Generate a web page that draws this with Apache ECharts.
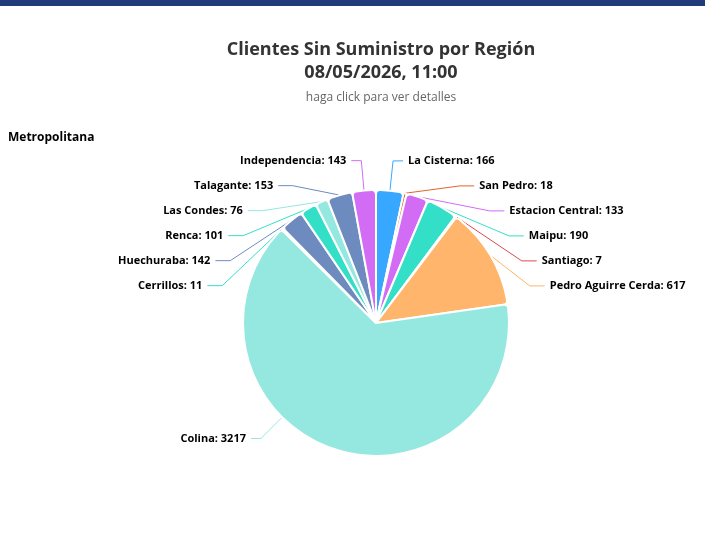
<!DOCTYPE html>
<html><head><meta charset="utf-8">
<script src="https://cdn.jsdelivr.net/npm/echarts@6/dist/echarts.min.js"></script>
<style>html,body{margin:0;padding:0;background:#fff}#c{width:705px;height:536px}</style>
</head><body><div id="c"></div>
<script>
const comunas = ['La Cisterna','San Pedro','Estacion Central','Maipu','Santiago','Pedro Aguirre Cerda','Colina','Cerrillos','Huechuraba','Renca','Las Condes','Talagante','Independencia'];
const clientes = [166,18,133,190,7,617,3217,11,142,101,76,153,143];
const colores = ['#38a7ff','#e0652a','#d36cf5','#34dfc8','#d94a4a','#ffb56b','#94e8e0','#34dfc8','#6e8bc0','#34dfc8','#94e8e0','#6e8bc0','#d36cf5'];
const titulo = 'Clientes Sin Suministro por Región\n08/05/2026, 11:00';
const subtitulo = 'haga click para ver detalles';
const region = 'Metropolitana';

const CX = 376, CY = 323, R = 133, LEN = 30, LEN2 = 10, GAP = 5;

// place outer labels on a circle of radius R + LEN (classic pie label curve)
function labelLayout(p) {
  const rc = p.labelRect;
  const right = rc.x + rc.width / 2 > CX;
  const dir = right ? 1 : -1;
  const ly = rc.y + rc.height / 2;
  const rA = R + LEN;
  const dy = Math.abs(ly - CY);
  if (dy >= rA) return {};
  const nx = CX + dir * (Math.sqrt(rA * rA - dy * dy) + LEN2 + GAP);
  const oldX = right ? rc.x : rc.x + rc.width;
  const delta = nx - oldX;
  const pts = p.labelLinePoints;
  if (Math.abs(delta) > 20 || !pts) {
    const p2 = [nx - dir * GAP, ly];
    const p1 = [p2[0] - dir * LEN2, ly];
    const vx = p1[0] - CX, vy = p1[1] - CY, d = Math.sqrt(vx * vx + vy * vy);
    const p0 = [CX + vx / d * R, CY + vy / d * R];
    return {x: nx, labelLinePoints: [p0, p1, p2]};
  }
  return {x: nx, labelLinePoints: [pts[0].slice(), pts[1].slice(), [pts[2][0] + delta, pts[2][1]]]};
}

const chart = echarts.init(document.getElementById('c'));
chart.setOption({
  animation: false,
  title: [{
    text: titulo,
    subtext: subtitulo,
    left: 376, top: 33, textAlign: 'center',
    textStyle: {fontFamily: 'Open Sans', fontSize: 18, fontWeight: 'bold', color: '#333', lineHeight: 23},
    subtextStyle: {fontFamily: 'Open Sans', fontSize: 12, color: '#666'},
    itemGap: 8
  }, {
    text: region, left: 3, top: 127,
    textStyle: {fontFamily: 'Open Sans', fontSize: 12, fontWeight: 'bold', color: '#000'}
  }],
  graphic: [{type: 'rect', left: 0, top: 0, shape: {width: 705, height: 6}, style: {fill: '#213a78'}}],
  series: [{
    type: 'pie',
    left: 0, top: 0, width: 705, height: 451,
    center: [CX, CY],
    radius: [0, R],
    startAngle: 90,
    clockwise: true,
    itemStyle: {borderColor: '#fff', borderWidth: 2, borderRadius: 4},
    label: {formatter: '{b}: {c}', fontFamily: 'Open Sans', fontWeight: 'bold', fontSize: 11, color: '#000', lineHeight: 23},
    labelLine: {length: LEN, length2: LEN2},
    labelLayout: labelLayout,
    data: comunas.map((n, i) => ({name: n, value: clientes[i], itemStyle: {color: colores[i]}}))
  }]
});
</script></body></html>
